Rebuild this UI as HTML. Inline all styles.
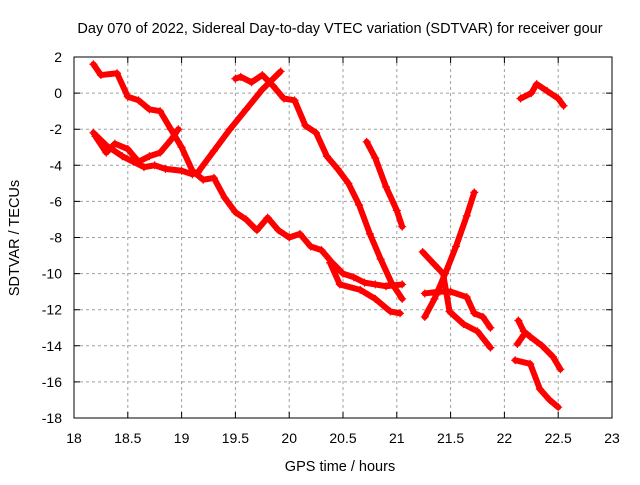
<!DOCTYPE html>
<html><head><meta charset="utf-8"><style>
body{margin:0;background:#fff;}
svg{font-family:"Liberation Sans",sans-serif;}
</style></head><body>
<svg id="chart" width="640" height="480">
<text x="340" y="33" font-size="14.5" text-anchor="middle">Day 070 of 2022, Sidereal Day-to-day VTEC variation (SDTVAR) for receiver gour</text>
<text x="340" y="471" font-size="14.5" text-anchor="middle">GPS time / hours</text>
<text transform="translate(19,238) rotate(-90)" font-size="14.5" text-anchor="middle">SDTVAR / TECUs</text>
<g id="grid"></g><g id="ticks"></g><g id="series"></g>
<rect x="74" y="57" width="538" height="361" fill="none" stroke="#000" stroke-width="1"/>
</svg>
<script>
const xTicks=[18,18.5,19,19.5,20,20.5,21,21.5,22,22.5,23];
const xTickLabels=["18","18.5","19","19.5","20","20.5","21","21.5","22","22.5","23"];
const yTicks=[2,0,-2,-4,-6,-8,-10,-12,-14,-16,-18];
const yTickLabels=["2","0","-2","-4","-6","-8","-10","-12","-14","-16","-18"];
const seriesA=[[18.18,1.6],[18.25,1.0],[18.4,1.1],[18.5,-0.2],[18.6,-0.4],[18.7,-0.9],[18.8,-1.0],[18.9,-2.0],[19.0,-3.0],[19.1,-4.3],[19.2,-4.8],[19.3,-4.7],[19.4,-5.8],[19.5,-6.6],[19.6,-7.0],[19.7,-7.6],[19.8,-6.9],[19.9,-7.6],[20.0,-8.0],[20.1,-7.8],[20.2,-8.5],[20.3,-8.7],[20.4,-9.4],[20.5,-10.0],[20.6,-10.2],[20.7,-10.5],[20.8,-10.6],[20.9,-10.7],[21.05,-10.6]];
const seriesB1=[[18.18,-2.2],[18.3,-2.9],[18.45,-3.5],[18.55,-3.8],[18.65,-4.1],[18.75,-4.0],[18.85,-4.2],[19.0,-4.3],[19.1,-4.5],[19.15,-4.4]];
const seriesB2=[[18.2,-2.4],[18.3,-3.3],[18.38,-2.8],[18.5,-3.1],[18.6,-3.8],[18.7,-3.5],[18.8,-3.3],[18.9,-2.6],[18.97,-2.0]];
const seriesC=[[19.15,-4.4],[19.3,-3.2],[19.45,-2.0],[19.6,-0.9],[19.75,0.2],[19.92,1.2]];
const seriesD=[[19.5,0.8],[19.55,0.9],[19.65,0.6],[19.75,1.0],[19.85,0.4],[19.95,-0.3],[20.05,-0.4],[20.15,-1.8],[20.25,-2.2],[20.35,-3.5],[20.45,-4.2],[20.55,-5.0],[20.65,-6.2],[20.75,-7.8],[20.85,-9.2],[20.95,-10.5],[21.05,-11.4]];
const seriesE=[[20.72,-2.7],[20.8,-3.6],[20.9,-5.2],[21.0,-6.5],[21.05,-7.4]];
const seriesF=[[20.38,-9.4],[20.47,-10.6],[20.66,-10.9],[20.8,-11.4],[20.94,-12.1],[21.03,-12.2]];
const seriesG=[[21.26,-12.4],[21.35,-11.4],[21.45,-10.0],[21.55,-8.5],[21.65,-6.8],[21.72,-5.5]];
const seriesH=[[21.24,-8.8],[21.35,-9.5],[21.43,-10.0],[21.49,-12.1],[21.62,-12.8],[21.75,-13.2],[21.87,-14.1]];
const seriesI=[[21.26,-11.1],[21.4,-11.0],[21.5,-11.0],[21.65,-11.3],[21.72,-12.2],[21.8,-12.4],[21.87,-13.0]];
const seriesJ=[[22.15,-0.3],[22.25,0.0],[22.3,0.5],[22.4,0.1],[22.5,-0.3],[22.55,-0.7]];
const seriesK=[[22.13,-12.6],[22.18,-13.2],[22.24,-13.5],[22.35,-14.0],[22.45,-14.6],[22.52,-15.3]];
const seriesK2=[[22.12,-13.9],[22.18,-13.4]];
const seriesL=[[22.1,-14.8],[22.24,-15.0],[22.33,-16.4],[22.42,-17.0],[22.5,-17.4]];
const allSeries=[seriesA,seriesB1,seriesB2,seriesC,seriesD,seriesE,seriesF,seriesG,seriesH,seriesI,seriesJ,seriesK,seriesK2,seriesL];
const NS="http://www.w3.org/2000/svg";
function xs(t){return 74+(t-18)/5*538;}
function ys(v){return 57+(2-v)/20*361;}
const grid=document.getElementById('grid'),ticks=document.getElementById('ticks'),ser=document.getElementById('series');
function mk(tag,at,parent){const e=document.createElementNS(NS,tag);for(const k in at)e.setAttribute(k,at[k]);parent.appendChild(e);return e;}
xTicks.forEach((t,i)=>{const x=xs(t);
 if(i>0&&i<xTicks.length-1){const g=mk('line',{x1:x,x2:x,y1:57,y2:418,stroke:'#a0a0a0','stroke-dasharray':'3,3'},grid);
 
 }
 const tk=mk('path',{d:`M${x},418v-6M${x},57v6`,stroke:'#000'},ticks);
 
 
 const l=mk('text',{x:x,y:443,'font-size':'14','text-anchor':'middle'},ticks);l.textContent=xTickLabels[i];
 
 });
yTicks.forEach((v,i)=>{const y=ys(v);
 if(i>0&&i<yTicks.length-1){const g=mk('line',{x1:74,x2:612,y1:y,y2:y,stroke:'#a0a0a0','stroke-dasharray':'3,3'},grid);
 
 }
 const tk=mk('path',{d:`M74,${y}h6M612,${y}h-6`,stroke:'#000'},ticks);
 
 
 const l=mk('text',{x:62,y:y+5,'font-size':'14','text-anchor':'end'},ticks);l.textContent=yTickLabels[i];
 
 });
allSeries.forEach((s,si)=>{
 const pl=mk('polyline',{points:s.map(p=>xs(p[0])+','+ys(p[1])).join(' '),fill:'none',stroke:'#ff0000','stroke-width':'6','stroke-linejoin':'round','stroke-linecap':'round'},ser);
 
 
 s.forEach(p=>{const x=xs(p[0]),y=ys(p[1]);
  const m=mk('path',{d:`M${x-4},${y}h8M${x},${y-4}v8`,stroke:'#ff0000','stroke-width':'1.2'},ser);
  
  });
});
</script>
</body></html>
